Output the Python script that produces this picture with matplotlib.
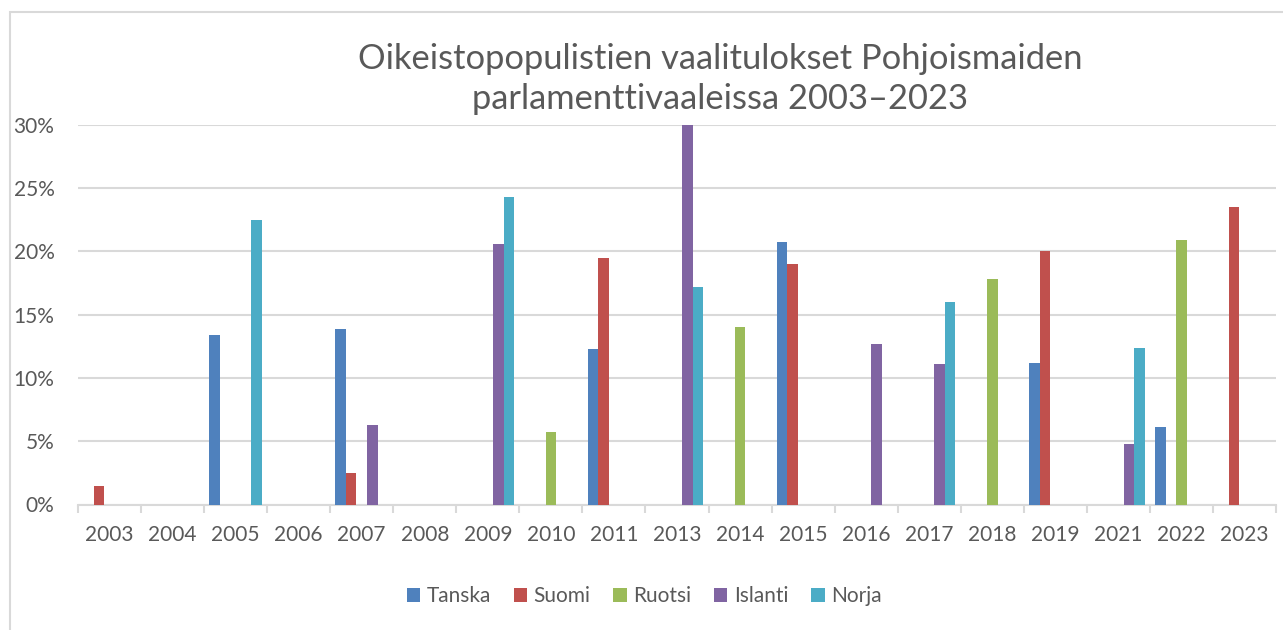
import matplotlib
matplotlib.use("Agg")
import matplotlib.pyplot as plt
import numpy as np
from matplotlib.patches import Rectangle

years = ["2003", "2004", "2005", "2006", "2007", "2008", "2009", "2010", "2011", "2013",
         "2014", "2015", "2016", "2017", "2018", "2019", "2021", "2022", "2023"]
series_names = ["Tanska", "Suomi", "Ruotsi", "Islanti", "Norja"]
tanska  = [0, 0, 13.4, 0, 13.9, 0, 0, 0, 12.3, 0, 0, 20.7, 0, 0, 0, 11.2, 0, 6.1, 0]
suomi   = [1.5, 0, 0, 0, 2.5, 0, 0, 0, 19.5, 0, 0, 19.0, 0, 0, 0, 20.0, 0, 0, 23.5]
ruotsi  = [0, 0, 0, 0, 0, 0, 0, 5.7, 0, 0, 14.0, 0, 0, 0, 17.8, 0, 0, 20.9, 0]
islanti = [0, 0, 0, 0, 6.3, 0, 20.6, 0, 0, 30.0, 0, 0, 12.7, 11.1, 0, 0, 4.8, 0, 0]
norja   = [0, 0, 22.5, 0, 0, 0, 24.3, 0, 0, 17.2, 0, 0, 0, 16.0, 0, 0, 12.4, 0, 0]
y_ticks = [0, 5, 10, 15, 20, 25, 30]

colors = ["#4F81BD", "#C0504D", "#9BBB59", "#8064A2", "#4BACC6"]
text_col = "#595959"
grid_col = "#D9D9D9"

plt.rcParams['font.family'] = ['Lato', 'DejaVu Sans']

fig = plt.figure(figsize=(12.83, 6.30), dpi=100)
W, H = 1283, 630
# outer chart border
fig.patches.append(Rectangle((10 / W, -0.05), 1.1, (1 - 12 / H) + 0.05, transform=fig.transFigure,
                             fill=False, edgecolor=grid_col, linewidth=1.5))

ax = fig.add_axes([78 / W, 1 - 504.5 / H, (1276 - 78) / W, (504.5 - 124.7) / H])

data = [tanska, suomi, ruotsi, islanti, norja]
x = np.arange(len(years))
bw = 1 / 6
for i, (name, vals, c) in enumerate(zip(series_names, data, colors)):
    ax.bar(x + (i - 2) * bw, vals, width=bw, color=c, label=name, linewidth=0, zorder=3)

ax.set_xlim(-0.5, len(years) - 0.5)
ax.set_ylim(0, 30)
ax.set_yticks(y_ticks)
ax.set_yticklabels([f"{v}%" for v in y_ticks], fontsize=15, color=text_col)
ax.yaxis.grid(True, color=grid_col, linewidth=1.5, zorder=0)
ax.tick_params(axis='y', length=0, pad=17)

ax.set_xticks(x)
ax.set_xticklabels(years, fontsize=15, color=text_col)
ax.tick_params(axis='x', length=0, pad=15)
ax.set_xticks(np.arange(-0.5, len(years), 1), minor=True)
ax.tick_params(axis='x', which='minor', length=6, width=1.5, color=grid_col, direction='out')

for s in ['top', 'right', 'left']:
    ax.spines[s].set_visible(False)
ax.spines['bottom'].set_color(grid_col)
ax.spines['bottom'].set_linewidth(1.5)
ax.set_axisbelow(True)

fig.text(720 / W, 1 - 79 / H, "Oikeistopopulistien vaalitulokset Pohjoismaiden\nparlamenttivaaleissa 2003–2023",
         ha='center', va='center', fontsize=24.8, color=text_col, linespacing=1.33)

leg = fig.legend(loc='center', bbox_to_anchor=(644 / W, 1 - 596 / H), ncol=5, frameon=False,
                 fontsize=15, labelcolor=text_col, handlelength=0.65, handleheight=0.65,
                 handletextpad=0.3, columnspacing=1.1)

fig.savefig("out.png", dpi=100)
